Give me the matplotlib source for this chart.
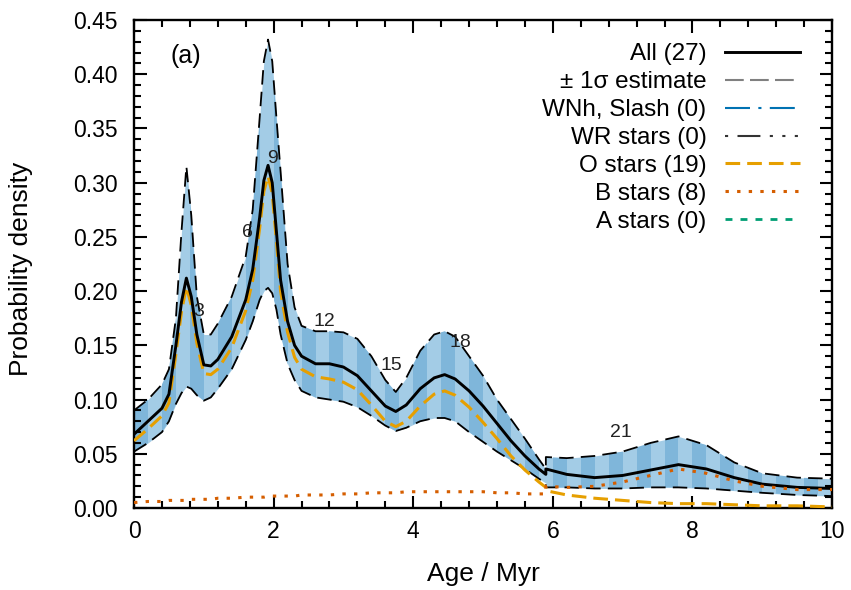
import numpy as np
import matplotlib
matplotlib.use("Agg")
import matplotlib.pyplot as plt
from matplotlib.ticker import MultipleLocator

plt.rcParams['font.family'] = ['Liberation Sans', 'DejaVu Sans']

# ages (Myr) where the curves were read; 5.9 appears twice because of the step there
age = [0, 0.2, 0.4, 0.5, 0.6, 0.68, 0.75, 0.82, 0.9, 1.0, 1.1, 1.2, 1.4, 1.6, 1.7,
       1.8, 1.86, 1.92, 1.98, 2.04, 2.1, 2.2, 2.3, 2.4, 2.6, 2.8, 3.0, 3.2, 3.4, 3.6, 3.75,
       3.9, 4.1, 4.3, 4.45, 4.6, 4.8, 5.0, 5.2, 5.4, 5.6, 5.8, 5.9, 5.9, 6.2, 6.6, 7.0,
       7.4, 7.8, 8.2, 8.6, 9.0, 9.5, 10]

p_all = [0.068, 0.080, 0.092, 0.105, 0.150, 0.190, 0.212, 0.195, 0.160, 0.132, 0.131,
         0.137, 0.158, 0.192, 0.220, 0.268, 0.302, 0.316, 0.300, 0.255, 0.210, 0.172, 0.150,
         0.140, 0.133, 0.133, 0.130, 0.122, 0.108, 0.094, 0.089, 0.095, 0.110, 0.120, 0.123,
         0.119, 0.108, 0.094, 0.078, 0.062, 0.048, 0.036, 0.031, 0.036, 0.031, 0.028, 0.030,
         0.035, 0.040, 0.036, 0.028, 0.022, 0.019, 0.018]

p_upper = [0.090, 0.100, 0.114, 0.128, 0.175, 0.255, 0.315, 0.270, 0.195, 0.160, 0.160,
           0.170, 0.195, 0.232, 0.275, 0.360, 0.412, 0.432, 0.412, 0.360, 0.310, 0.225, 0.185,
           0.168, 0.163, 0.163, 0.162, 0.156, 0.140, 0.118, 0.107, 0.120, 0.145, 0.160, 0.163,
           0.158, 0.140, 0.122, 0.100, 0.082, 0.064, 0.045, 0.036, 0.047, 0.046, 0.048, 0.052,
           0.060, 0.066, 0.058, 0.042, 0.032, 0.028, 0.027]

p_lower = [0.052, 0.060, 0.070, 0.080, 0.096, 0.106, 0.112, 0.110, 0.104, 0.099, 0.102,
           0.110, 0.128, 0.155, 0.172, 0.192, 0.200, 0.203, 0.198, 0.183, 0.160, 0.133, 0.118,
           0.108, 0.102, 0.100, 0.098, 0.093, 0.085, 0.076, 0.071, 0.074, 0.080, 0.083, 0.083,
           0.080, 0.070, 0.061, 0.052, 0.044, 0.036, 0.027, 0.023, 0.019, 0.019, 0.018, 0.018,
           0.019, 0.019, 0.018, 0.016, 0.014, 0.012, 0.011]

p_o = [0.062, 0.073, 0.085, 0.097, 0.142, 0.181, 0.204, 0.187, 0.152, 0.124, 0.123,
       0.128, 0.148, 0.182, 0.210, 0.258, 0.292, 0.306, 0.290, 0.246, 0.200, 0.162, 0.139,
       0.128, 0.121, 0.119, 0.116, 0.109, 0.095, 0.080, 0.075, 0.080, 0.094, 0.105, 0.108,
       0.104, 0.093, 0.079, 0.064, 0.048, 0.035, 0.024, 0.019, 0.016, 0.012, 0.009, 0.007,
       0.005, 0.004, 0.004, 0.003, 0.002, 0.002, 0.001]

p_b = [0.005, 0.006, 0.006, 0.007, 0.007, 0.007, 0.007, 0.008, 0.008, 0.008, 0.008,
       0.009, 0.009, 0.010, 0.010, 0.010, 0.010, 0.011, 0.011, 0.011, 0.011, 0.011, 0.011,
       0.012, 0.012, 0.012, 0.013, 0.013, 0.014, 0.014, 0.014, 0.015, 0.015, 0.015, 0.015,
       0.015, 0.015, 0.015, 0.014, 0.014, 0.013, 0.013, 0.013, 0.020, 0.019, 0.020, 0.024,
       0.030, 0.036, 0.032, 0.025, 0.020, 0.017, 0.017]

# running-count labels along the curve
count_labels = ['3', '6', '9', '12', '15', '18', '21']
count_x = [0.92, 1.62, 1.98, 2.72, 3.68, 4.68, 6.98]
count_y = [0.181, 0.254, 0.322, 0.172, 0.131, 0.153, 0.070]

fig = plt.figure(figsize=(8.51, 5.9), dpi=100)
ax = fig.add_axes([0.1575, 0.139, 0.8202, 0.827])

light = '#a3cce6'
dark = '#7fb6da'
band = ax.fill_between(age, p_lower, p_upper, color=light, lw=0, zorder=1)
clip = band.get_paths()[0]
edges = np.arange(0, 10.01, 0.2)
for k in range(0, len(edges) - 1, 2):
    r = ax.axvspan(edges[k], edges[k + 1], color=dark, lw=0, zorder=1.5)
    r.set_clip_path(clip, ax.transData)

band_ls = (0, (8, 4))
o_ls = (0, (4.8, 2.3))
b_ls = (0, (1.1, 2.7))
ax.plot(age, p_upper, color='black', lw=1.3, ls=band_ls, zorder=3)
ax.plot(age, p_lower, color='black', lw=1.3, ls=band_ls, zorder=3)
ax.plot(age, p_o, color='#e69f00', lw=2.2, ls=o_ls, zorder=4)
ax.plot(age, p_all, color='black', lw=2.1, zorder=5)
ax.plot(age, p_b, color='#d55e00', lw=2.2, ls=b_ls, zorder=6)

for t, x, y in zip(count_labels, count_x, count_y):
    ax.text(x, y, t, fontsize=14, ha='center', va='center', color='#222222', zorder=7)

ax.text(0.745, 0.417, '(a)', fontsize=18, ha='center', va='center')

# legend handles (empty series for classes with no members)
h_all, = ax.plot([], [], color='black', lw=2.1, label='All (27)')
h_sig, = ax.plot([], [], color='#808080', lw=1.5, ls=(0, (9, 3)), label='± 1σ estimate')
h_wn, = ax.plot([], [], color='#0072b2', lw=1.5, ls=(0, (12, 4, 1.5, 4)), label='WNh, Slash (0)')
h_wr, = ax.plot([], [], color='#333333', lw=1.5, ls=(0, (1.5, 4.5, 11, 4.5, 1.5, 4.5, 1.5, 4.5)),
                label='WR stars (0)')
h_o, = ax.plot([], [], color='#e69f00', lw=2.2, ls=o_ls, label='O stars (19)')
h_b, = ax.plot([], [], color='#d55e00', lw=2.2, ls=b_ls, label='B stars (8)')
h_a, = ax.plot([], [], color='#009e73', lw=2.0, ls=(0, (2.5, 2.9)), label='A stars (0)')
ax.legend(handles=[h_all, h_sig, h_wn, h_wr, h_o, h_b, h_a], loc='upper right',
          bbox_to_anchor=(0.954, 0.952), frameon=False, markerfirst=False,
          fontsize=17.5, handlelength=3.1, labelspacing=0.24, handletextpad=0.74,
          borderpad=0, borderaxespad=0)

ax.set_xlim(0, 10)
ax.set_ylim(0, 0.45)
ax.xaxis.set_major_locator(MultipleLocator(2))
ax.xaxis.set_minor_locator(MultipleLocator(0.4))
ax.yaxis.set_major_locator(MultipleLocator(0.05))
ax.yaxis.set_minor_locator(MultipleLocator(0.01))
ax.yaxis.set_major_formatter(plt.FormatStrFormatter('%.2f'))
ax.tick_params(which='both', direction='in', top=True, right=True, labelsize=16.5, width=1.5)
ax.tick_params(which='major', length=9)
ax.tick_params(which='minor', length=5)
ax.tick_params(axis='x', pad=9)
ax.tick_params(axis='y', pad=12)
for s in ax.spines.values():
    s.set_linewidth(1.7)

ax.set_xlabel('Age / Myr', fontsize=19)
ax.set_ylabel('Probability density', fontsize=19)
ax.xaxis.set_label_coords(0.5, -0.111)
ax.yaxis.set_label_coords(-0.145, 0.49)

fig.savefig('out.png', dpi=100)
